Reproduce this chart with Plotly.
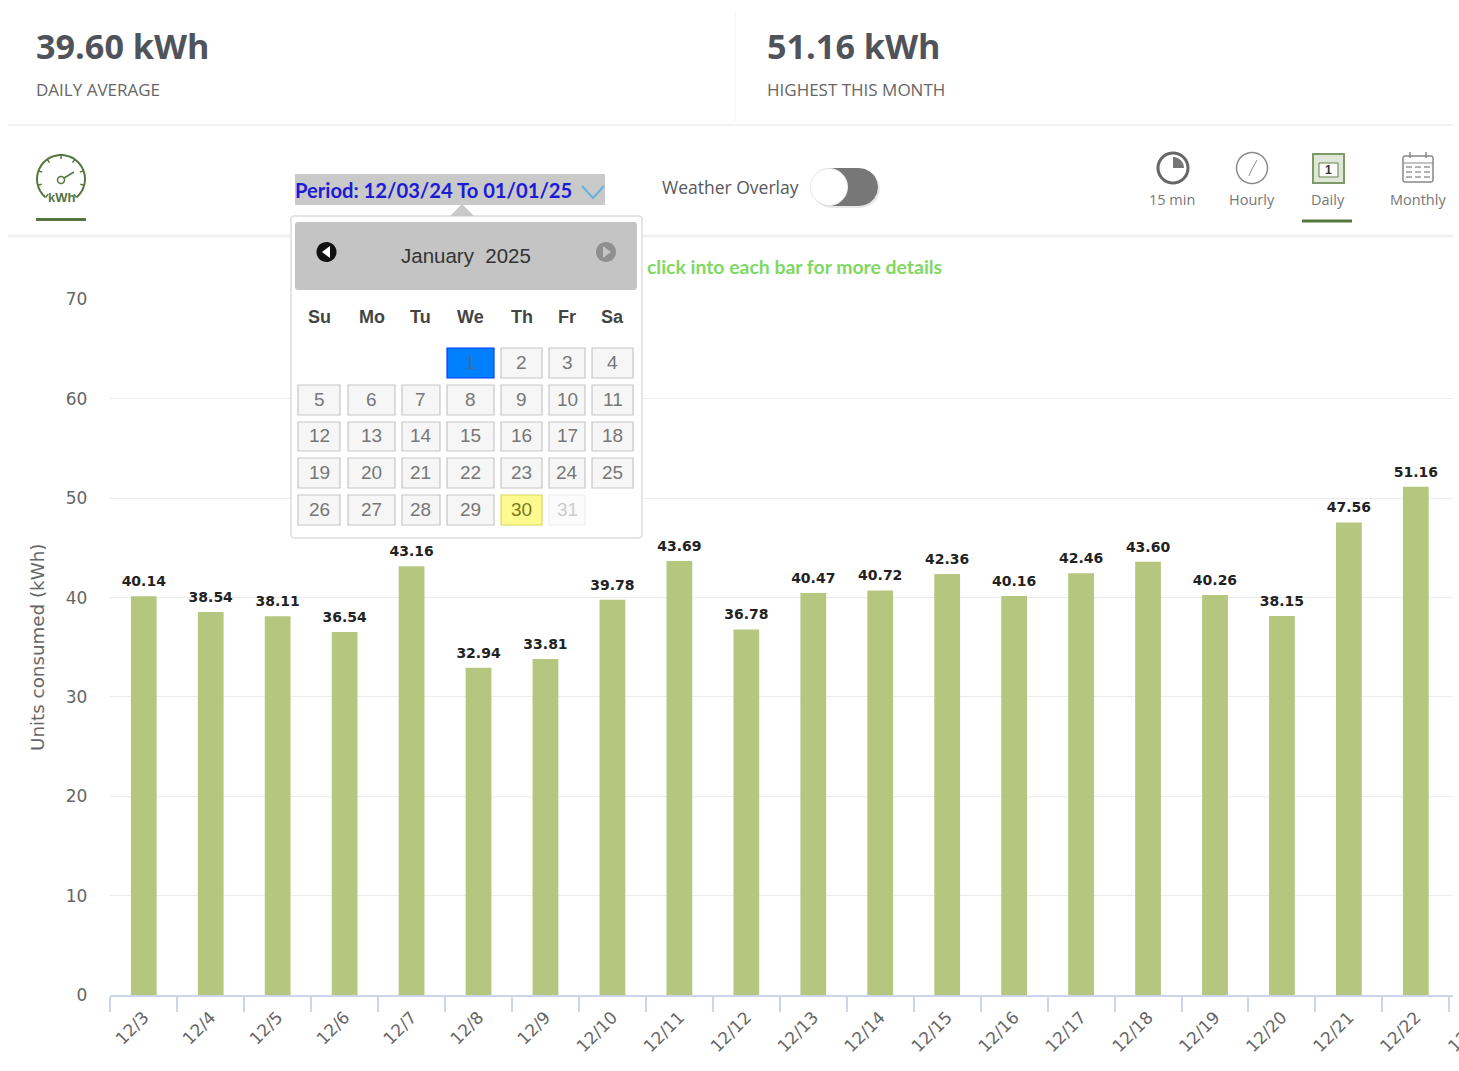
import math
import numpy as np
import plotly.graph_objects as go

# ---- data ----
dates = ["12/3","12/4","12/5","12/6","12/7","12/8","12/9","12/10","12/11","12/12",
         "12/13","12/14","12/15","12/16","12/17","12/18","12/19","12/20","12/21","12/22"]
kwh = [40.14,38.54,38.11,36.54,43.16,32.94,33.81,39.78,43.69,36.78,
       40.47,40.72,42.36,40.16,42.46,43.60,40.26,38.15,47.56,51.16]
y_ticks = [0,10,20,30,40,50,60,70]
weekdays = ["Su","Mo","Tu","We","Th","Fr","Sa"]
month_rows = [[None,None,None,1,2,3,4],[5,6,7,8,9,10,11],[12,13,14,15,16,17,18],
              [19,20,21,22,23,24,25],[26,27,28,29,30,31,None]]
view_tabs = ["15 min","Hourly","Daily","Monthly"]

W, H = 1459, 1071
GREEN = "#b5c77e"
DARKGREEN = "#56763f"
FONT = "Open Sans"
ARIAL = "Liberation Sans"
AXISFONT = "DejaVu Sans"

def X(p): return p / W
def Y(p): return 1 - p / H

shapes, notes = [], []

def note(x, y, text, size, color, anchor="left", font=FONT, bold=False, angle=0):
    notes.append(dict(x=X(x), y=Y(y), xref="paper", yref="paper", text=f"<b>{text}</b>" if bold else text,
                      showarrow=False, xanchor=anchor, yanchor="middle", textangle=angle, borderpad=0, borderwidth=0,
                      font=dict(family=font, size=size, color=color)))

def path(points, close=False, fill=None, line=None, width=1):
    d = "M" + " L".join(f"{X(a):.5f},{Y(b):.5f}" for a, b in points) + (" Z" if close else "")
    s = dict(type="path", xref="paper", yref="paper", path=d, layer="above",
             line=dict(color=line or "rgba(0,0,0,0)", width=width if line else 0))
    if fill: s["fillcolor"] = fill
    shapes.append(s)

def arc(cx, cy, r, a0, a1, n=40):
    return [(cx + r*math.cos(math.radians(a)), cy + r*math.sin(math.radians(a))) for a in np.linspace(a0, a1, n)]

def rrect(x0, y0, x1, y1, r=0, fill=None, line=None, width=1):
    if r == 0:
        pts = [(x0,y0),(x1,y0),(x1,y1),(x0,y1)]
    else:
        pts = arc(x0+r,y0+r,r,180,270,6)+arc(x1-r,y0+r,r,270,360,6)+arc(x1-r,y1-r,r,0,90,6)+arc(x0+r,y1-r,r,90,180,6)
    path(pts, True, fill, line, width)

def circle(cx, cy, r, fill=None, line=None, width=1):
    path(arc(cx,cy,r,0,360,48), True, fill, line, width)

# ---- page furniture ----
path([(735,10),(735,122)], line="#f3f3f3", width=1)
path([(8,125),(1453,125)], line="#f1f1f1", width=2)
path([(8,236),(1453,236)], line="#f1f1f1", width=3)
note(36,46,"39.60 kWh",34.2,"#50545a",bold=True)
note(36,89,"DAILY AVERAGE",17,"#666666")
note(767,46,"51.16 kWh",34.2,"#50545a",bold=True)
note(767,89,"HIGHEST THIS MONTH",17,"#666666")

# gauge icon
path(arc(61,179,24,130,410), line=DARKGREEN, width=2)
for a in range(130,411,35):
    path([(61+24*math.cos(math.radians(a)),179+24*math.sin(math.radians(a))),
          (61+20*math.cos(math.radians(a)),179+20*math.sin(math.radians(a)))], line=DARKGREEN, width=1.5)
circle(61,180,3.5,line=DARKGREEN,width=1.5)
path([(64,178),(74,172)], line=DARKGREEN, width=1.5)
note(62,197,"kWh",13,DARKGREEN,"center",font=ARIAL,bold=True)
path([(36,219.5),(86,219.5)], line=DARKGREEN, width=3)

# period bar
rrect(295,174,605,205,fill="#c9c9c9")
note(295,189.5,"Period: 12/03/24 To 01/01/25",20.2,"#1b1bd6",font="Lato",bold=True)
path([(582,186),(593,198),(604,186)], line="#62b3da", width=2)

# toggle
rrect(812,170,880,208,r=19,fill="#e8e8e8")
rrect(811,168,878,206,r=19,fill="#777777")
circle(829,187,18.5,fill="#ffffff",line="#e6e6e6",width=1)
note(662,187,"Weather Overlay",17.5,"#56585c")

# view tabs
circle(1173,168,15,fill="#ffffff",line="#666666",width=3)
path([(1173,168),(1173,157)]+arc(1173,168,11,270,360,12), True, fill="#777777")
circle(1252,168,15.5,fill="#ffffff",line="#8b8b8b",width=1.5)
path([(1249,176),(1252,169),(1257,160)], line="#8b8b8b", width=1)
rrect(1313,154,1344,183,fill="#dfe8d6",line="#7d9a68",width=2)
rrect(1319,163,1338,177,fill="#ffffff",line="#5f7f48",width=1)
note(1328.5,170,"1",12,"#333333","center",font=ARIAL,bold=True)
rrect(1403,156,1433,182,r=2,fill="#ffffff",line="#888888",width=1.5)
path([(1403,163),(1433,163)], line="#888888", width=1)
path([(1410,152),(1410,158)], line="#888888", width=1.5)
path([(1426,152),(1426,158)], line="#888888", width=1.5)
for gy in (167,172,177):
    for gx in (1409,1418,1427):
        path([(gx-3,gy),(gx+3,gy)], line="#999999", width=1.5)
for tab, tx in zip(view_tabs,(1172,1252,1328,1418)):
    note(tx,199,tab,14.5,"#777777","center")
path([(1302,221),(1352,221)], line=DARKGREEN, width=3)

note(647,266.5,"click into each bar for more details",19.4,"#7fd863",font="Lato",bold=True)

# calendar popup
rrect(291,216,642,538,r=3,fill="#ffffff",line="#dddddd",width=1.5)
path([(450,216),(462,204),(474,216)], True, fill="#c9c9c9")
rrect(295,222,637,290,r=3,fill="#c4c4c4")
note(466,255,"January&nbsp;&nbsp;2025",20.5,"#333333","center",font=ARIAL)
circle(326.5,252,10,fill="#111111")
path([(330,246),(322,252),(330,258)], True, fill="#ffffff")
circle(606,252,10,fill="#8f8f8f")
path([(603,246),(611,252),(603,258)], True, fill="#c4c4c4")

col_edges = [(298,340),(348,395),(402,440),(447,494),(501,542),(549,585),(592,633)]
row_edges = [(348,378),(385,415),(422,451),(458,488),(495,525)]
for (c0,c1),wd in zip(col_edges,weekdays):
    note((c0+c1)/2,317,wd,18,"#444444","center",font=ARIAL,bold=True)
for (r0,r1),week in zip(row_edges,month_rows):
    for (c0,c1),day in zip(col_edges,week):
        if day is None: continue
        fill,line,txt = "#f6f6f6","#c5c5c5","#777777"
        if day == 1: fill,line,txt = "#007fff","#003eff","#3b6ea8"
        if day == 30: fill,line,txt = "#fffa90","#dad55e","#777620"
        if day == 31: fill,line,txt = "#fbfbfb","#eeeeee","#cccccc"
        rrect(c0,r0,c1,r1,fill=fill,line=line,width=1.2)
        note((c0+c1)/2,(r0+r1)/2-1,str(day),19,txt,"center",font=ARIAL)

# clipped label of the next category at the right edge
note(1468,1032,"12/23",17,"#666666","center",font=AXISFONT,angle=-45)

fig = go.Figure()
fig.add_trace(go.Bar(x=dates, y=kwh, width=0.385, marker=dict(color=GREEN, line=dict(width=0)), hoverinfo="x+y"))
fig.add_trace(go.Scatter(
    x=dates, y=kwh, mode="markers+text", marker=dict(size=9, opacity=0),
    text=[f"{v:.2f}" for v in kwh], textposition="top center", cliponaxis=False,
    textfont=dict(family="DejaVu Sans", size=14, color="#222222", weight="bold"),
    hoverinfo="skip",
))
fig.update_layout(
    width=W, height=H, autosize=False, showlegend=False,
    paper_bgcolor="#ffffff", plot_bgcolor="#ffffff",
    margin=dict(l=0,r=0,t=0,b=0),
    shapes=shapes, annotations=notes,
    xaxis=dict(domain=[110.3/W,1453/W], type="category", categoryorder="array", categoryarray=dates,
               range=[-0.5,19.555], tickson="boundaries", ticks="outside", ticklen=15, tickcolor="#ccd6eb", tickwidth=1.5,
               showline=True, linecolor="#ccd6eb", linewidth=1.5, showgrid=False, tickangle=-45, automargin=False,
               ticklabelstandoff=4, tickfont=dict(family=AXISFONT,size=17,color="#666666")),
    yaxis=dict(domain=[1-995/H,1-299.5/H], range=[0,70], tickvals=y_ticks, gridcolor="#ececec", gridwidth=1.2,
               zeroline=False, showline=False, ticks="", ticklabelstandoff=22, automargin=False,
               tickfont=dict(family=AXISFONT,size=17,color="#666666"),
               title=dict(text="Units consumed (kWh)", standoff=16, font=dict(family=AXISFONT,size=18.3,color="#666666"))),
)
fig.write_html("out.html", post_script="document.body.style.margin='0';", config={"displayModeBar": False})
